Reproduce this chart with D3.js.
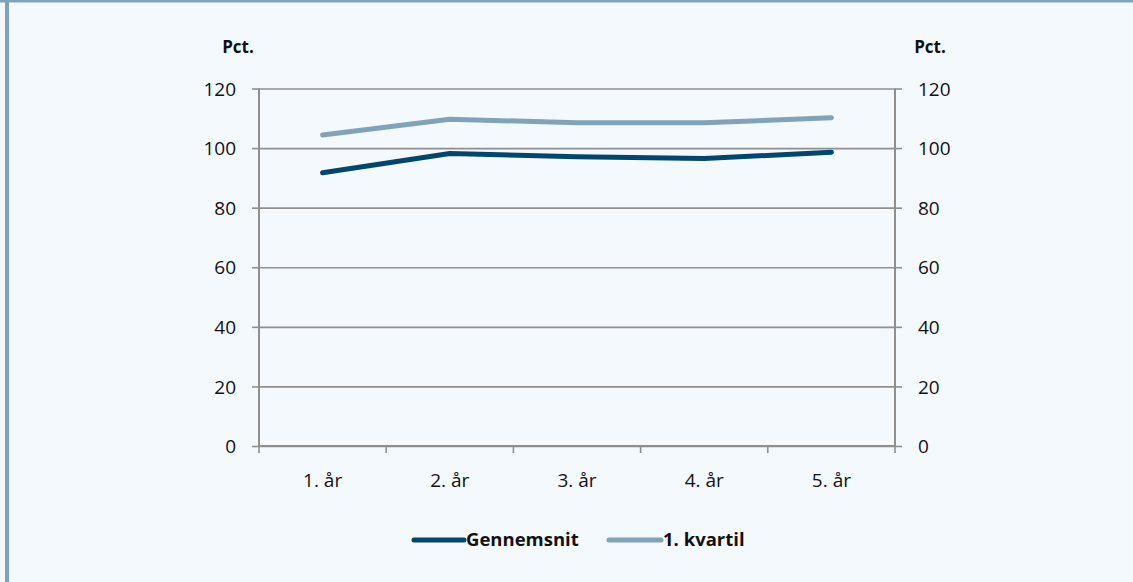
<!DOCTYPE html>
<html><head><meta charset="utf-8">
<script src="https://cdn.jsdelivr.net/npm/d3@7"></script>
<style>
html,body{margin:0;padding:0;background:#f4f9fd;}
svg{display:block;}
text{font-family:"Open Sans","Noto Sans",sans-serif;fill:#111;}
</style></head>
<body>
<svg id="c" width="1133" height="582"></svg>
<script>
const categories = ["1. år","2. år","3. år","4. år","5. år"];
const gennemsnit = [91.7, 98.2, 97.1, 96.5, 98.6];
const kvartil1 = [104.4, 109.7, 108.5, 108.5, 110.2];
const yTicks = [0,20,40,60,80,100,120];
const seriesNames = ["Gennemsnit","1. kvartil"];
const seriesColors = ["#00466e","#80a3b9"];
const axisLabel = "Pct.";

const svg = d3.select("#c");
const W = 1133, H = 582;
svg.append("rect").attr("width",W).attr("height",H).attr("fill","#f4f9fd");
svg.append("rect").attr("x",0).attr("y",0).attr("width",W).attr("height",2.5).attr("fill","#80a3b9");
svg.append("rect").attr("x",5).attr("y",0).attr("width",4).attr("height",H).attr("fill","#80a3b9");

const L = 259, R = 895, T = 88.5, B = 446;
const x = d3.scaleBand().domain(categories).range([L,R]).padding(0);
const y = d3.scaleLinear().domain([0,120]).range([B,T]);
const gridCol = "#8f8f8f";
const fs = "19px";

// gridlines
const grid = svg.append("g").attr("transform",`translate(${L},0)`)
  .call(d3.axisLeft(y).tickValues(yTicks).tickSize(-(R-L)).tickFormat(""));
grid.select(".domain").remove();
grid.selectAll("line").attr("stroke",gridCol).attr("stroke-width",1.6);

// left axis
const ga = svg.append("g").attr("transform",`translate(${L},0)`)
  .call(d3.axisLeft(y).tickValues(yTicks).tickSize(7).tickPadding(16));
ga.select(".domain").attr("stroke",gridCol).attr("stroke-width",2).attr("d",`M0,${T}V${B}`);
ga.selectAll("line").attr("stroke",gridCol).attr("stroke-width",1.6);
ga.selectAll("text").style("font-size",fs).attr("fill","#111").attr("dy","0.35em");

// right axis
const gr = svg.append("g").attr("transform",`translate(${R},0)`)
  .call(d3.axisRight(y).tickValues(yTicks).tickSize(7).tickPadding(16));
gr.select(".domain").attr("stroke",gridCol).attr("stroke-width",2).attr("d",`M0,${T}V${B}`);
gr.selectAll("line").attr("stroke",gridCol).attr("stroke-width",1.6);
gr.selectAll("text").style("font-size",fs).attr("fill","#111").attr("dy","0.35em");

// bottom axis
svg.append("line").attr("x1",L).attr("x2",R).attr("y1",B).attr("y2",B)
  .attr("stroke",gridCol).attr("stroke-width",2.2);
const edges = categories.map(c=>x(c)).concat([R]);
svg.append("g").selectAll("line").data(edges).join("line")
  .attr("x1",d=>d).attr("x2",d=>d).attr("y1",B).attr("y2",B+7)
  .attr("stroke",gridCol).attr("stroke-width",1.6);
const gb = svg.append("g").attr("transform",`translate(0,${B})`)
  .call(d3.axisBottom(x).tickSize(0).tickPadding(28));
gb.select(".domain").remove();
gb.selectAll("text").style("font-size",fs).attr("fill","#111");

// axis titles
svg.append("text").attr("x",238).attr("y",53).attr("text-anchor","middle")
  .style("font-size","17px").style("font-weight","bold").text(axisLabel);
svg.append("text").attr("x",930).attr("y",53).attr("text-anchor","middle")
  .style("font-size","17px").style("font-weight","bold").text(axisLabel);

// lines
const line = d3.line().x((d,i)=>x(categories[i])+x.bandwidth()/2).y(d=>y(d));
[kvartil1, gennemsnit].forEach((s,k)=>{
  const col = k===0 ? seriesColors[1] : seriesColors[0];
  svg.append("path").datum(s).attr("d",line).attr("fill","none")
    .attr("stroke",col).attr("stroke-width",5).attr("stroke-linecap","round").attr("stroke-linejoin","round");
});

// legend
const leg = [
  {name:seriesNames[0], col:seriesColors[0], x1:414, x2:464, tx:466},
  {name:seriesNames[1], col:seriesColors[1], x1:609, x2:661, tx:663}
];
const lg = svg.append("g");
leg.forEach(d=>{
  lg.append("line").attr("x1",d.x1).attr("x2",d.x2).attr("y1",540).attr("y2",540)
    .attr("stroke",d.col).attr("stroke-width",5).attr("stroke-linecap","round");
  lg.append("text").attr("x",d.tx).attr("y",540).attr("dy","0.35em")
    .style("font-size","18.5px").style("font-weight","bold").text(d.name);
});
</script>
</body></html>
